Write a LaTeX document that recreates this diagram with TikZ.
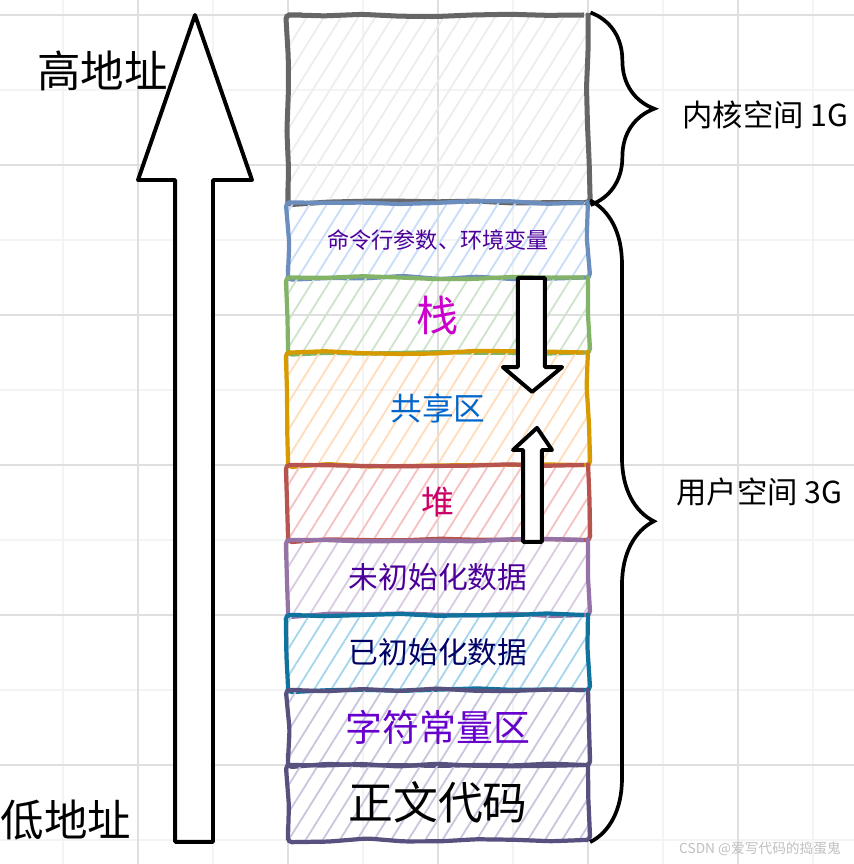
\documentclass[tikz,border=0pt]{standalone}
\usepackage{fontspec}
\setmainfont{Noto Sans CJK SC}
\usepackage{xcolor}
\usetikzlibrary{patterns.meta, decorations.pathmorphing, decorations.pathreplacing}
\definecolor{memgray}{HTML}{666666}
\definecolor{memblue}{HTML}{6C8EBF}
\definecolor{memgreen}{HTML}{82B366}
\definecolor{memorange}{HTML}{D79B00}
\definecolor{memred}{HTML}{B85450}
\definecolor{memviolet}{HTML}{9673A6}
\definecolor{memteal}{HTML}{10739E}
\definecolor{memslate}{HTML}{56517E}
\definecolor{fillblue}{HTML}{C9DDF8}
\definecolor{fillgreen}{HTML}{CDE4CB}
\definecolor{fillorange}{HTML}{FFDDBB}
\definecolor{fillred}{HTML}{F5C2C0}
\definecolor{fillviolet}{HTML}{D9CCE2}
\definecolor{fillteal}{HTML}{A5D6EC}
\definecolor{fillslate}{HTML}{C9C6DE}
\definecolor{txtpurple}{HTML}{4C0099}
\definecolor{txtmagenta}{HTML}{CC00CC}
\definecolor{txtblue}{HTML}{0066CC}
\definecolor{txtrose}{HTML}{CC0066}
\definecolor{txtnavy}{HTML}{000066}
\definecolor{txtviolet}{HTML}{6600CC}

\begin{document}
\begin{tikzpicture}[x=0.5cm, y=0.5cm,
  seg/.style 2 args={draw=#1, pattern={Lines[angle=58,distance=5.5pt,line width=0.7pt]},
    pattern color=#2, line width=1.6pt, minimum width=4cm, inner sep=0pt,
    decorate, decoration={random steps, segment length=14pt, amplitude=0.6pt},
    rounded corners=1.5pt},
  blockarrow/.style={draw=black, fill=white, line width=1.5pt, line join=round},
  bracket/.style={draw=black, line width=1.4pt, decorate,
    decoration={brace, amplitude=0.85cm}},
  sidelbl/.style={anchor=west, inner sep=0pt, font=\fontsize{11.5pt}{13pt}\selectfont},
  addrlbl/.style={font=\fontsize{16.5pt}{19pt}\selectfont}]
  \pgfmathsetseed{7}
  \useasboundingbox (-7.68,-22.64) rectangle (15.093,0.4);
  % background grid
  \draw[gray!9, line width=0.5pt] (-7.68,-22.64) grid (15.093,0.4);
  \draw[gray!25, line width=0.5pt, step=4] (-7.68,-22.64) grid (15.093,0.4);
  % memory segments, top to bottom
  \node[seg={memgray}{gray!14}, minimum height=2.5cm, line width=1.9pt] (kernel) at (4,-2.5) {};
  \node[seg={memblue}{fillblue}, minimum height=1cm, text=txtpurple,
    font=\fontsize{8.4pt}{10pt}\selectfont] (cmdargs) at (4,-6) {命令行参数、环境变量};
  \node[seg={memgreen}{fillgreen}, minimum height=1cm, text=txtmagenta,
    font=\fontsize{16pt}{18pt}\selectfont] (stack) at (4,-8) {栈};
  \node[seg={memorange}{fillorange}, minimum height=1.5cm, text=txtblue,
    font=\fontsize{12pt}{14pt}\selectfont] (shared) at (4,-10.5) {共享区};
  \node[seg={memred}{fillred}, minimum height=1cm, text=txtrose,
    font=\fontsize{12.5pt}{14pt}\selectfont] (heap) at (4,-13) {堆};
  \node[seg={memviolet}{fillviolet}, minimum height=1cm, text=txtpurple,
    font=\fontsize{11.3pt}{13pt}\selectfont] (bss) at (4,-15) {未初始化数据};
  \node[seg={memteal}{fillteal}, minimum height=1cm, text=txtnavy,
    font=\fontsize{11.3pt}{13pt}\selectfont] (data) at (4,-17) {已初始化数据};
  \node[seg={memslate}{fillslate}, minimum height=1cm, text=txtviolet,
    font=\fontsize{14pt}{16pt}\selectfont] (rodata) at (4,-19) {字符常量区};
  \node[seg={memslate}{fillslate}, minimum height=1cm, text=black,
    font=\fontsize{17pt}{19pt}\selectfont] (code) at (4,-21) {正文代码};
  % growth arrows
  \draw[blockarrow] (6.13,-7.01) -- (6.85,-7.01) -- (6.85,-9.39) -- (7.31,-9.39)
    -- (6.51,-10.05) -- (5.73,-9.39) -- (6.13,-9.39) -- cycle;
  \draw[blockarrow] (6.64,-11.01) -- (7.04,-11.6) -- (6.77,-11.6) -- (6.77,-14.05)
    -- (6.27,-14.05) -- (6.27,-11.6) -- (6.0,-11.6) -- cycle;
  % address arrow
  \draw[blockarrow] (-2.48,0) -- (-0.96,-4.4) -- (-2.0,-4.4) -- (-2.0,-22.05)
    -- (-3.01,-22.05) -- (-3.01,-4.4) -- (-4.0,-4.4) -- cycle;
  \node[addrlbl] (high) at (-4.95,-1.49) {高地址};
  \node[addrlbl] (low) at (-5.92,-21.47) {低地址};
  % kernel / user braces
  \draw[bracket] (kernel.north east) -- (kernel.south east);
  \draw[bracket] (cmdargs.north east) -- (code.south east);
  \node[sidelbl] (kernlbl) at (10.51,-2.67) {内核空间 1G};
  \node[sidelbl] (userlbl) at (10.35,-12.72) {用户空间 3G};
  \node[anchor=east, text=gray!50, font=\fontsize{5.2pt}{6pt}\selectfont] (mark)
    at (14.99,-22.24) {CSDN @爱写代码的捣蛋鬼};
\end{tikzpicture}
\end{document}
